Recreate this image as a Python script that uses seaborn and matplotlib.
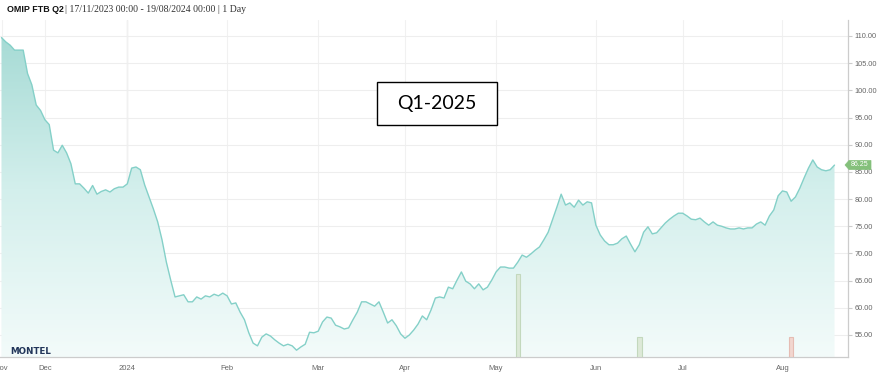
import numpy as np
import pandas as pd
import matplotlib
matplotlib.use("Agg")
import matplotlib.pyplot as plt
import seaborn as sns
from matplotlib.patches import Polygon, Rectangle
from matplotlib.colors import LinearSegmentedColormap

# ---------------- data ----------------
trading_days = pd.bdate_range("2023-11-17", "2024-08-19")
holidays = pd.to_datetime(["2023-12-25", "2023-12-26", "2024-03-29", "2024-04-01"])
trading_days = trading_days[~trading_days.isin(holidays)]

prices = [
    109.7, 108.9, 108.3, 107.4, 107.4, 107.4, 103.1, 101.0, 97.3, 96.3,
    94.6, 93.7, 89.0, 88.5, 89.9, 88.5, 86.5, 82.8, 82.8, 82.0,
    81.1, 82.5, 80.9, 81.4, 81.7, 81.3, 81.9, 82.2, 82.2, 82.8,
    85.7, 85.9, 85.4, 82.6, 80.4, 78.2, 75.8, 72.5, 68.4, 65.1,
    62.0, 62.2, 62.4, 61.1, 61.1, 62.0, 61.6, 62.2, 62.0, 62.5,
    62.2, 62.7, 62.2, 60.7, 60.9, 59.2, 57.8, 55.4, 53.5, 53.0,
    54.6, 55.2, 54.8, 54.1, 53.5, 53.0, 53.3, 53.0, 52.2, 52.8,
    53.3, 55.5, 55.4, 55.7, 57.4, 58.3, 58.1, 56.8, 56.5, 56.1,
    56.3, 57.8, 59.2, 61.1, 61.1, 60.7, 60.3, 61.1, 59.2, 57.2,
    57.8, 56.7, 55.2, 54.4, 55.0, 55.9, 57.0, 58.5, 57.8, 59.6,
    61.8, 62.0, 61.8, 63.8, 63.5, 65.1, 66.6, 64.9, 64.4, 63.5,
    64.4, 63.3, 63.8, 65.1, 66.6, 67.5, 67.5, 67.3, 67.3, 68.4,
    69.7, 69.3, 69.9, 70.6, 71.2, 72.5, 73.9, 76.2, 78.5, 80.9,
    78.9, 79.3, 78.5, 79.8, 78.9, 79.5, 79.3, 75.2, 73.4, 72.3,
    71.6, 71.6, 71.9, 72.7, 73.2, 71.7, 70.3, 71.6, 73.9, 74.9,
    73.6, 73.8, 74.7, 75.6, 76.3, 76.9, 77.4, 77.4, 76.9, 76.3,
    76.2, 76.5, 75.8, 75.2, 75.8, 75.2, 75.0, 74.7, 74.5, 74.5,
    74.7, 74.5, 74.7, 74.7, 75.4, 75.8, 75.2, 76.9, 78.0, 80.6,
    81.5, 81.3, 79.6, 80.4, 82.0, 83.9, 85.7, 87.2, 85.9, 85.4,
    85.2, 85.4, 86.25,
]

volume_dates = ["2024-05-08", "2024-06-17", "2024-08-05"]
volumes = [42, 10, 10]
volume_sides = ["buy", "buy", "sell"]

month_labels = ["Nov", "Dec", "2024", "Feb", "Mar", "Apr", "May", "Jun", "Jul", "Aug"]
y_ticks = [55, 60, 65, 70, 75, 80, 85, 90, 95, 100, 105, 110]

title_bold = "OMIP FTB Q2"
title_rest = "| 17/11/2023 00:00 - 19/08/2024 00:00 | 1 Day"
annotation = "Q1-2025"
last_label = "86.25"

df = pd.DataFrame({"date": trading_days, "price": prices})
df["idx"] = np.arange(len(df))

# ---------------- figure ----------------
W, H = 879, 375
sns.set_style("white")
fig = plt.figure(figsize=(W / 100, H / 100), dpi=100)


def fx(x):
    return x / W


def fy(y):
    return 1 - y / H


ax_left, ax_right, ax_top, ax_bottom = 0, 848, 20, 357
ax = fig.add_axes([fx(ax_left), fy(ax_bottom), (ax_right - ax_left) / W, (ax_bottom - ax_top) / H])

x0 = -0.346
x1 = 195.11
y0, y1 = 50.95, 112.94

# gradient fill
xs = df["idx"].to_numpy(dtype=float)
ys = df["price"].to_numpy(dtype=float)
verts = np.column_stack([np.r_[xs[0], xs, xs[-1]], np.r_[y0, ys, y0]])
poly = Polygon(verts, closed=True, facecolor="none", edgecolor="none")
ax.add_patch(poly)
cmap = LinearSegmentedColormap.from_list("g", ["#f3fbfa", "#d3efec", "#a2d9d3"])
grad = np.linspace(0, 1, 256).reshape(-1, 1)
im = ax.imshow(grad, aspect="auto", cmap=cmap, extent=[x0, x1, y0, y1],
               origin="lower", zorder=1, interpolation="bilinear")
im.set_clip_path(poly)

sns.lineplot(data=df, x="idx", y="price", ax=ax, color="#84d0c8", linewidth=1.0, zorder=3)

# volume bars on hidden twin axis
ax2 = ax.twinx()
ax2.set_ylim(0, 170)
ax2.set_xlim(x0, x1)
ax2.axis("off")
vol_idx = [int(df.index[df["date"] == pd.Timestamp(d)][0]) for d in volume_dates]
fills = {"buy": "#dde9d8", "sell": "#f2d6cf"}
edges = {"buy": "#c3d8bd", "sell": "#e5bcb3"}
ax2.bar(vol_idx, volumes, width=1.05,
        color=[fills[s] for s in volume_sides],
        edgecolor=[edges[s] for s in volume_sides], linewidth=0.8, zorder=2)

# month ticks
df["month"] = df["date"].dt.to_period("M")
month_pos = df.groupby("month")["idx"].min().to_list()
ax.set_xticks(month_pos)
ax.set_xticklabels(month_labels)
ax.set_yticks(y_ticks)
ax.set_yticklabels([f"{v:.2f}" for v in y_ticks])
ax.yaxis.tick_right()
ax.set_xlim(x0, x1)
ax.set_ylim(y0, y1)
ax.set_xlabel("")
ax.set_ylabel("")

ax.grid(axis="y", color="#eeeeee", linewidth=0.8, zorder=0)
ax.grid(axis="x", color="#f1f1f1", linewidth=0.8, zorder=0)
ax.axvline(month_pos[2], color="#dddddd", linewidth=0.9, zorder=0.5)
ax.set_axisbelow(True)

for s in ["top", "left"]:
    ax.spines[s].set_visible(False)
for s in ["right", "bottom"]:
    ax.spines[s].set_color("#cccccc")
    ax.spines[s].set_linewidth(0.9)

ax.tick_params(axis="x", direction="out", length=4, width=0.8, color="#cccccc",
               labelsize=5.5, labelcolor="#666666", pad=2)
ax.tick_params(axis="y", direction="out", length=3, width=0.8, color="#cccccc",
               labelsize=5.3, labelcolor="#666666", pad=1.5,
               right=True, left=False, labelright=True, labelleft=False)
for lab in ax.get_xticklabels() + ax.get_yticklabels():
    lab.set_fontfamily("Liberation Sans")

# title
fig.text(fx(7), fy(10), title_bold, fontsize=6.4, fontweight="bold",
         family="Liberation Sans", color="#111111", va="center", ha="left")
fig.text(fx(65), fy(10), title_rest, fontsize=7, family="Liberation Serif",
         color="#333333", va="center", ha="left")

# annotation box
fig.add_artist(Rectangle((fx(377), fy(125)), (497 - 377) / W, (125 - 82) / H,
                         transform=fig.transFigure, facecolor="white",
                         edgecolor="black", linewidth=1.0, zorder=5))
fig.text(fx(437), fy(104), annotation, fontsize=14, family="Lato", color="black",
         ha="center", va="center", zorder=6)

# montel logo
fig.text(fx(10), fy(352), "MONTEL", fontsize=6.3, fontweight="bold",
         family="DejaVu Sans", color="#22365a", ha="left", va="center")

# last value tag
tag = Polygon([(fx(845), fy(165)), (fx(849), fy(160.5)), (fx(871), fy(160.5)),
               (fx(871), fy(169.5)), (fx(849), fy(169.5))], closed=True,
              transform=fig.transFigure, facecolor="#84c07b", edgecolor="#84c07b",
              linewidth=0.5, zorder=5)
fig.add_artist(tag)
fig.text(fx(860), fy(165), last_label, fontsize=5, family="Liberation Sans",
         color="white", ha="center", va="center", zorder=6)

fig.savefig("out.png", dpi=100)
